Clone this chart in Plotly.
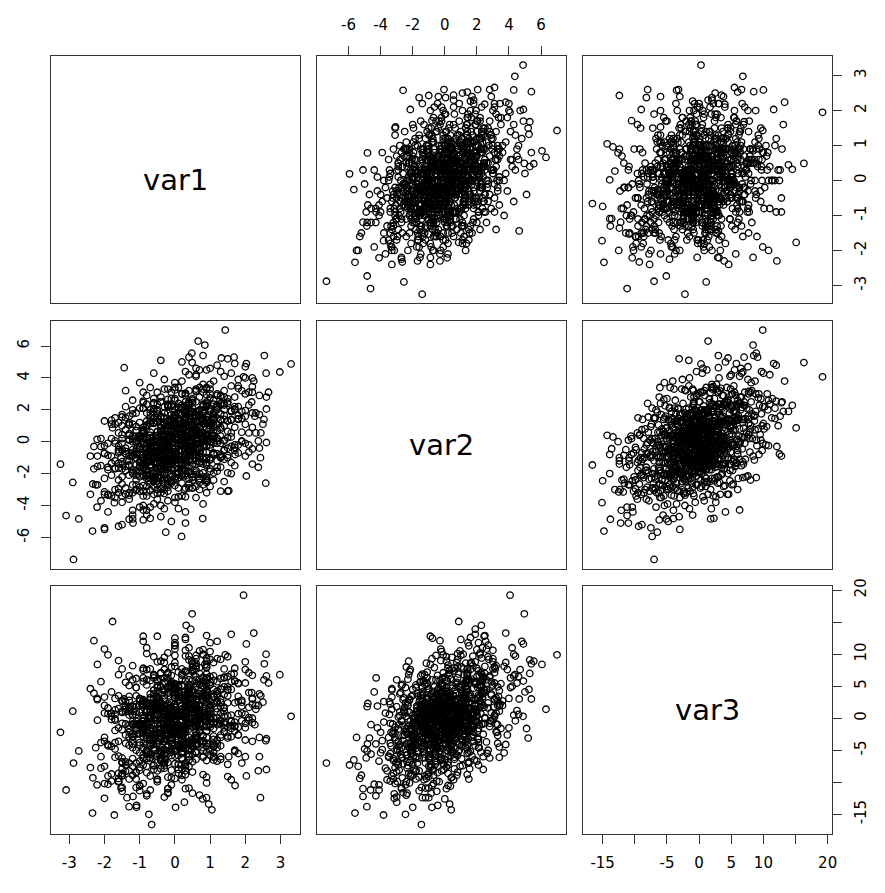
import plotly.graph_objects as go

# pairs() plot of three correlated variables

names = ["var1", "var2", "var3"]

# observations grouped by var2 band (rows of ten, same row order in all three lists)
core1 = [
    -0.4, -1.6, -0.9, 0.3, -1.2, -2.0, -0.7, -0.1, -1.5, -0.8,
    -1.3, 0.1, -0.6, -1.9, -0.2, -1.0, 0.6, -0.8, -1.5, -0.4,
    -0.9, -2.1, 0.3, -0.5, -1.2, 0.0, -0.7, -1.7, -0.3, 0.8,
    -0.3, -1.4, 0.5, -0.9, -2.2, 0.2, -0.6, -1.1, 0.9, -0.1,
    -1.7, -0.2, -0.8, 0.4, -1.2, -0.5, 1.3, -1.9, -0.4, 0.0,
    0.6, -1.0, -0.6, -2.4, 0.1, -0.3, -1.5, 0.8, -0.7, -1.3,
    -0.9, 0.3, -1.6, -0.1, -0.5, 1.0, -1.1, -0.2, -2.0, 0.5,
    -1.2, -0.4, 0.7, -0.8, -1.8, 0.2, -0.6, -1.4, 1.5, -0.2,
    -0.9, 0.9, -1.2, 0.2, 1.1, -0.1, -1.8, 0.6, -0.4, -0.7,
    -1.5, 0.3, -0.2, -1.0, 0.7, -0.6, -2.3, 0.1, -0.3, 1.4,
    0.4, -0.8, -1.3, 0.0, -0.5, 1.6, -1.1, -0.2, 0.8, -1.7,
    -0.6, 1.0, -0.1, -1.4, 0.5, -0.9, 0.2, -2.0, -0.4, 0.6,
    -1.1, -0.3, 0.9, -0.7, -1.6, 0.4, 1.2, -0.5, -0.1, -1.3,
    0.2, -1.9, -0.6, 0.7, -0.2, -1.0, 0.1, 1.7, -0.8, -0.4,
    -0.9, 0.5, -0.4, -1.2, 1.3, -0.1, -0.7, 0.3, -2.1, 0.0,
    0.7, -0.5, -1.5, 0.1, -0.8, 0.9, -0.3, -1.1, 0.4, -0.6,
    0.3, -1.0, -0.5, 0.8, -1.6, 0.1, -0.2, 1.3, -0.8, -0.4,
    -1.3, 0.6, 0.0, -0.7, 1.0, -0.3, -2.0, 0.4, -0.1, 0.9,
    0.5, -0.6, -1.2, 0.2, -0.4, 1.5, -0.9, 0.0, -1.7, 0.7,
    -0.2, 1.1, -0.8, -0.1, 0.6, -1.4, 0.3, -0.5, 2.0, -1.0,
    -0.7, 0.0, 0.9, -1.5, -0.3, 0.4, -1.1, 1.2, -0.6, 0.1,
    1.0, -0.4, -0.9, 0.5, -2.2, -0.1, 0.7, -0.7, 0.2, -1.3,
    -0.5, 0.8, -0.2, -1.8, 0.1, -0.8, 1.6, -0.3, -1.0, 0.4,
    0.2, -1.2, 0.4, -0.6, 1.4, -0.2, -1.5, 0.6, -0.4, -0.9,
    -1.1, 0.3, -0.7, 1.8, -0.5, 0.0, -1.3, 0.9, -0.1, 0.5,
    0.6, -0.3, -1.6, 0.1, 0.9, -0.8, 0.3, -2.4, -0.2, 1.1,
    -0.4, 1.3, 0.0, -0.9, -0.3, 0.7, -1.2, 0.2, -0.6, 2.2,
    1.1, -0.3, 0.4, -1.5, 0.0, 0.7, -0.9, 1.9, -0.5, 0.2,
    -0.8, 0.1, 1.4, -0.2, -1.1, 0.9, 0.3, -0.6, 2.0, -1.4,
    0.6, -1.7, -0.1, 0.5, 1.2, -0.4, -0.7, 0.0, 0.8, -1.0,
    -0.3, 0.9, -1.2, 1.6, 0.2, -0.5, 0.4, -2.1, -0.2, 1.0,
    0.0, -0.6, 0.8, -0.9, 1.5, 0.3, -1.3, 0.6, -0.1, -0.4,
    1.3, 0.2, -1.8, 0.4, -0.3, 1.0, -0.7, 0.1, 2.4, -0.8,
    -0.5, 0.7, 0.0, -1.1, 0.9, -0.2, 1.7, -1.6, 0.3, 0.5,
    0.4, -1.3, 1.1, 0.2, -0.4, -0.9, 0.6, 1.2, -0.1, -2.3,
    -1.0, 0.5, -0.2, 0.8, -1.5, 1.4, 0.0, -0.3, 0.7, 0.1,
    0.2, 1.8, -0.6, -0.1, 0.5, -1.2, 0.9, -0.8, 0.3, -0.5,
    -1.9, 0.0, 0.6, 1.1, -0.4, 0.2, -1.0, 0.4, 1.6, -0.7,
    0.8, -0.5, 0.3, -0.3, -1.3, 0.6, 2.1, -0.2, -0.9, 1.2,
    0.9, -0.5, 1.6, 0.1, -1.2, 0.6, 0.3, -0.2, 1.3, -0.8,
    -0.1, 0.8, -1.5, 1.1, 0.4, -0.6, 2.2, 0.0, 0.5, -0.3,
    1.4, 0.2, -0.4, -1.0, 0.7, 1.0, -0.1, 0.5, -1.8, 0.3,
    -0.7, 1.2, 0.6, 0.0, -0.3, 1.8, -1.1, 0.9, 0.2, -0.5,
    0.5, -1.4, 0.1, 1.5, -0.6, 0.3, 0.8, -0.9, 1.1, 0.0,
    -0.2, 0.4, 2.0, -0.8, 1.0, -0.3, 0.2, 1.3, -1.3, 0.7,
    1.7, -0.1, -0.7, 0.6, -2.0, 0.9, 0.4, -0.4, 0.1, 1.1,
    0.0, 1.0, -0.9, 0.3, 0.8, -0.2, -1.6, 1.4, 0.6, -0.6,
    -1.1, 0.7, 0.2, 2.5, -0.4, 0.5, 1.2, -0.7, 0.0, 0.9,
    0.6, -0.8, 1.3, -0.2, 0.4, -1.3, 0.1, 1.9, -0.5, 0.3,
    0.2, 1.5, -0.3, 0.8, -0.9, 0.0, 1.1, -0.1, 0.7, -1.7,
    1.2, -0.3, 0.6, 2.0, -0.9, 0.3, 1.5, -0.1, 0.8, -1.4,
    0.0, 1.7, -0.6, 0.4, 1.1, -1.2, 0.9, 0.2, 2.3, -0.4,
    -0.7, 0.5, 1.3, -0.2, 0.1, 1.8, -1.5, 0.7, 0.4, 1.0,
    0.9, -1.0, 0.2, 1.4, -0.5, 0.6, 0.0, 2.1, -0.8, 0.3,
    1.6, 0.4, -0.2, -1.7, 0.8, 0.1, 1.2, -0.4, 0.5, 2.4,
    -0.3, 1.1, 0.7, 0.2, -1.1, 1.5, 0.3, -0.6, 1.9, 0.0,
    0.5, -0.5, 2.2, 0.9, 0.3, -0.9, 1.0, 0.6, -0.2, 1.3,
    0.1, 1.4, -1.3, 0.5, 1.7, 0.0, -0.4, 0.8, 1.1, -0.7,
    1.4, 0.0, 0.9, -0.8, 2.1, 0.5, -0.3, 1.2, 0.7, 1.8,
    -0.4, 1.0, 0.3, 1.6, -1.2, 0.8, 2.4, 0.1, 0.6, -0.1,
    0.7, 2.0, -0.6, 0.4, 1.3, -0.2, 0.9, 1.7, -0.9, 0.2,
    1.1, -0.5, 0.6, 2.6, 0.0, 1.5, -1.4, 0.3, 1.0, 0.8,
    0.2, 1.2, 1.9, -0.1, 0.5, -0.7, 1.4, 0.9, 0.0, 2.2,
    1.3, 0.0, 0.6, 1.8, -0.6, 1.0, 0.4, 2.2, 0.2, 0.9,
    -0.3, 1.6, 0.8, 0.3, 2.0, 0.6, -1.0, 1.4, 0.7, 1.1,
    1.0, 0.4, 1.7, -0.4, 2.0, 0.8, 1.2, 0.2, 1.5, 0.6,
]

core2 = [
    -4.7, -5.3, -4.9, -5.1, -4.6, -5.4, -4.8, -5.0, -5.2, -4.6,
    -3.6, -4.2, -3.9, -4.4, -3.7, -4.1, -3.5, -4.3, -3.8, -4.0,
    -4.0, -3.7, -4.4, -3.6, -4.3, -3.8, -4.1, -3.5, -4.2, -3.9,
    -2.6, -3.3, -2.9, -3.1, -2.7, -3.4, -2.8, -3.0, -3.2, -2.5,
    -3.0, -2.6, -3.4, -2.9, -3.2, -2.7, -3.1, -3.3, -2.8, -3.5,
    -2.8, -3.1, -2.5, -3.3, -2.9, -3.0, -3.4, -2.7, -2.6, -3.2,
    -3.4, -2.9, -3.2, -2.6, -3.0, -2.8, -2.7, -3.1, -3.3, -2.9,
    -2.7, -3.2, -3.0, -2.8, -3.4, -2.6, -3.3, -2.9, -3.1, -2.7,
    -1.5, -2.2, -2.0, -1.8, -2.4, -1.7, -2.1, -1.9, -2.3, -1.6,
    -2.2, -1.8, -2.4, -1.6, -2.0, -2.3, -1.7, -1.9, -2.1, -2.5,
    -1.9, -2.1, -1.5, -2.3, -1.8, -2.0, -2.4, -1.6, -2.2, -1.7,
    -2.4, -1.7, -2.0, -1.8, -2.2, -1.6, -2.1, -2.3, -1.9, -1.8,
    -1.8, -2.0, -2.3, -1.5, -2.4, -1.9, -1.6, -2.2, -1.7, -2.1,
    -2.1, -1.6, -1.8, -2.4, -1.9, -2.2, -2.0, -1.5, -2.3, -1.7,
    -1.7, -2.4, -2.1, -1.9, -1.6, -1.8, -2.3, -2.0, -1.5, -2.2,
    -2.3, -1.9, -1.7, -2.0, -2.1, -2.4, -1.5, -1.8, -1.6, -2.0,
    -0.6, -1.3, -0.9, -1.1, -0.7, -1.4, -0.8, -1.0, -1.2, -0.5,
    -1.2, -0.8, -1.4, -0.6, -1.0, -1.3, -0.7, -0.9, -1.1, -1.5,
    -0.9, -1.1, -0.5, -1.3, -0.8, -1.0, -1.4, -0.6, -1.2, -0.7,
    -1.4, -0.7, -1.0, -0.8, -1.2, -0.6, -1.1, -1.3, -0.9, -0.8,
    -0.8, -1.0, -1.3, -0.5, -1.4, -0.9, -0.6, -1.2, -0.7, -1.1,
    -1.1, -0.6, -0.8, -1.4, -0.9, -1.2, -1.0, -0.5, -1.3, -0.7,
    -0.7, -1.4, -1.1, -0.9, -0.6, -0.8, -1.3, -1.0, -0.5, -1.2,
    -1.3, -0.9, -0.7, -1.0, -1.1, -1.4, -0.5, -0.8, -0.6, -1.0,
    -1.0, -0.5, -1.2, -0.7, -1.3, -1.1, -0.9, -1.4, -0.8, -0.6,
    -0.5, -1.2, -0.6, -1.1, -1.0, -0.7, -1.3, -0.9, -1.4, -0.8,
    -1.2, -0.8, -1.0, -1.3, -0.6, -0.9, -0.7, -1.1, -1.0, -1.4,
    0.4, -0.3, 0.1, -0.1, 0.3, -0.4, 0.2, 0.0, -0.2, 0.5,
    -0.2, 0.3, -0.5, 0.2, 0.0, -0.3, 0.4, 0.1, -0.1, -0.4,
    0.1, -0.1, 0.4, -0.4, 0.2, 0.0, -0.3, 0.5, -0.2, 0.3,
    -0.4, 0.2, 0.0, 0.3, -0.2, 0.4, -0.1, -0.3, 0.1, 0.0,
    0.3, 0.0, -0.3, 0.5, -0.4, 0.1, 0.4, -0.2, 0.3, -0.1,
    -0.1, 0.4, 0.2, -0.3, 0.1, -0.2, 0.0, 0.3, -0.4, 0.2,
    0.2, -0.4, -0.1, 0.1, 0.4, 0.3, -0.2, -0.5, 0.0, 0.1,
    0.0, 0.1, 0.3, -0.2, -0.1, -0.4, 0.5, 0.2, 0.4, -0.3,
    -0.3, 0.5, -0.2, 0.0, 0.2, 0.1, -0.4, 0.4, -0.1, 0.3,
    0.5, -0.2, 0.0, 0.4, -0.3, 0.2, 0.1, -0.1, 0.2, -0.4,
    -0.1, 0.3, 0.4, -0.1, 0.0, -0.5, 0.2, 0.1, -0.3, 0.4,
    0.2, -0.3, 0.1, 0.3, 0.5, 0.0, -0.2, -0.4, 0.3, -0.1,
    1.2, 0.6, 1.4, 0.9, 1.1, 0.7, 1.5, 1.0, 0.8, 1.3,
    0.8, 1.3, 1.0, 0.6, 1.4, 1.2, 0.9, 1.5, 1.1, 0.7,
    1.4, 0.9, 0.7, 1.2, 0.5, 1.0, 1.3, 0.8, 1.1, 1.4,
    0.6, 1.1, 1.3, 1.0, 0.8, 1.4, 0.7, 1.2, 0.9, 1.5,
    1.0, 1.5, 0.8, 1.3, 1.2, 0.6, 1.1, 0.9, 1.4, 0.7,
    1.3, 0.7, 1.1, 0.8, 1.0, 1.5, 0.6, 1.4, 1.2, 0.9,
    0.9, 1.2, 1.5, 0.6, 1.3, 0.8, 1.0, 0.7, 1.1, 1.4,
    1.1, 0.8, 0.6, 1.4, 0.9, 1.3, 1.2, 1.0, 0.5, 1.2,
    0.7, 1.4, 1.2, 1.1, 0.6, 0.9, 1.5, 1.3, 1.0, 0.8,
    1.5, 1.0, 0.9, 0.7, 1.4, 1.1, 0.8, 0.6, 1.3, 1.0,
    0.8, 1.3, 1.1, 1.5, 0.7, 1.2, 0.9, 1.4, 0.6, 1.1,
    2.3, 1.8, 2.5, 1.6, 2.1, 1.9, 2.4, 1.7, 2.0, 2.2,
    1.7, 2.2, 1.9, 2.4, 1.6, 2.0, 2.3, 2.1, 1.8, 2.5,
    2.0, 1.6, 2.3, 1.8, 2.4, 2.2, 1.7, 1.9, 2.5, 2.1,
    2.4, 2.1, 1.7, 2.0, 1.9, 1.6, 2.2, 2.3, 1.8, 1.5,
    1.9, 2.4, 2.2, 1.5, 2.3, 1.8, 2.0, 1.6, 2.1, 1.7,
    2.2, 1.7, 2.0, 2.3, 1.8, 2.5, 1.6, 2.4, 1.9, 2.0,
    1.6, 2.0, 1.8, 2.2, 2.5, 2.1, 1.9, 1.7, 2.3, 2.4,
    2.1, 2.3, 1.6, 1.9, 2.0, 1.7, 2.5, 2.2, 1.5, 1.8,
    3.2, 2.7, 3.4, 2.9, 3.1, 2.6, 3.3, 3.0, 2.8, 3.5,
    2.8, 3.3, 3.0, 3.5, 2.6, 3.1, 2.9, 3.4, 3.2, 2.7,
    3.4, 3.0, 2.7, 3.2, 2.9, 3.3, 2.5, 2.8, 3.1, 3.0,
    2.6, 3.1, 3.3, 2.8, 3.4, 2.7, 3.2, 2.9, 3.0, 3.3,
    3.0, 2.9, 3.2, 3.1, 2.7, 3.4, 2.8, 3.3, 2.6, 3.1,
    4.4, 3.7, 4.1, 3.9, 4.3, 3.6, 4.2, 4.0, 3.8, 4.5,
    3.9, 4.3, 3.6, 4.4, 4.0, 4.2, 3.7, 4.1, 4.5, 3.8,
    4.6, 5.3, 4.9, 5.1, 4.7, 5.4, 4.8, 5.0, 5.2, 4.6,
]

core3 = [
    -3.1, -9.4, -6.2, -11.0, -1.0, -7.5, 2.3, -4.8, -8.9, -5.6,
    -8.2, -1.5, -4.9, -10.3, 0.8, -6.7, -3.0, -12.1, 2.6, -5.4,
    -2.2, -7.8, 4.1, -9.6, -4.0, -0.6, -11.2, -6.1, 1.9, -3.5,
    -7.1, 1.4, -3.6, -10.2, -0.3, -5.5, 3.8, -8.4, -2.0, 0.9,
    -4.8, -11.6, 2.2, -1.7, -6.3, 5.1, -3.0, -9.0, 0.4, -5.9,
    1.0, -7.7, -2.6, 4.6, -4.4, -12.3, -0.8, -6.1, 2.9, -9.5,
    -3.9, 0.2, -8.6, -1.1, 6.0, -5.0, -10.8, -2.3, 3.3, -6.8,
    -0.5, -6.6, 1.8, -4.1, -9.8, -2.7, 4.4, -7.3, -1.4, -11.0,
    -0.4, -10.1, -2.9, 5.2, -4.0, 0.6, -8.7, -1.2, 2.4, -6.3,
    2.8, -4.7, 0.3, -11.3, -0.9, -7.4, 3.9, -3.3, -5.6, 1.7,
    -0.2, -5.1, 6.6, -2.5, -6.0, 4.5, -1.6, -9.2, 0.9, -3.8,
    -5.8, 1.2, -3.1, -8.3, 7.3, -1.9, -4.4, 2.0, -7.9, -0.7,
    4.8, -4.9, -1.3, 1.9, -9.9, -3.6, 0.1, -6.9, -2.2, 3.4,
    -1.5, 0.7, -4.1, -12.0, -2.8, 3.0, -7.2, -0.6, 1.1, -5.2,
    -1.0, 8.0, -6.5, -3.4, 2.5, -8.1, -0.1, -4.6, 5.7, -2.0,
    6.1, -2.4, -7.0, 3.6, -1.8, -5.3, 1.5, -9.5, -3.7, 0.4,
    2.1, -4.2, 0.7, -8.8, -1.5, 4.9, -2.7, -6.4, 1.3, -0.3,
    -7.0, 0.2, 3.8, -3.1, -5.7, 1.9, -10.2, -0.8, 5.5, -2.0,
    -1.2, 6.3, -4.6, 0.5, -2.3, -9.1, 2.7, -5.2, -0.1, 3.4,
    4.1, -2.8, -7.5, 1.6, -0.4, -3.9, 7.2, -1.7, -6.0, 0.9,
    -3.4, 1.2, -0.6, -11.4, 3.1, -5.0, -1.9, 2.4, -8.0, 5.0,
    0.0, -6.6, 2.3, -1.4, 8.4, -3.2, 0.8, -4.4, -9.6, 1.7,
    -5.5, 3.6, -2.5, 0.3, -7.2, 6.0, -1.1, -3.6, 2.0, -10.9,
    1.4, -0.9, -4.8, 4.4, -2.1, 0.6, -6.8, 9.3, -3.3, -0.5,
    -8.5, 2.9, 0.1, -2.6, 5.8, -4.1, 1.0, -12.4, -1.6, 3.0,
    3.7, -1.8, -5.9, 0.4, -3.0, 2.5, -0.2, -7.7, 6.9, -4.5,
    -2.4, 0.8, 4.6, -6.2, 1.5, -1.0, -8.9, 3.2, -4.0, -0.7,
    -1.6, 4.3, -5.0, 0.9, 2.2, -3.6, 7.8, -0.4, -8.2, 1.1,
    5.2, -2.1, 0.3, -6.9, 3.5, -1.3, -4.2, 9.6, -0.8, 2.6,
    -3.2, 0.6, -9.3, 2.8, -1.0, 6.1, -5.6, 0.0, 3.9, -2.4,
    0.7, 8.3, -2.9, -0.5, -6.3, 1.8, 4.5, -3.8, -11.0, 0.2,
    -4.7, 2.0, 5.8, -1.9, 0.4, -7.6, 1.3, -2.2, 6.7, -0.9,
    3.0, -5.4, -0.2, 1.6, -3.1, 10.4, -1.5, 4.0, -6.0, -2.7,
    -0.3, 1.9, -7.1, 4.8, -4.4, -0.7, 2.4, -9.8, 0.8, 5.9,
    -6.5, -1.1, 3.3, -2.5, 7.1, 0.5, -5.3, 1.0, -3.5, 12.1,
    2.7, -3.9, -0.9, 6.4, -8.6, 3.7, -0.1, -4.9, 2.1, -1.4,
    -2.0, 5.5, 1.5, -5.8, 0.1, -2.8, 8.9, -1.2, -7.3, 3.2,
    9.9, -0.6, -4.1, 2.3, -1.7, 0.9, -10.5, 4.2, -2.9, 1.4,
    -5.1, 3.4, 0.0, -3.3, 5.1, -6.4, 1.7, -0.5, 7.5, -4.0,
    3.6, -2.3, 6.9, -4.1, 0.5, 2.9, -7.0, 1.4, 9.2, -0.6,
    -1.8, 5.0, 1.1, -6.1, 4.2, -2.9, 0.0, 11.3, -3.7, 2.1,
    7.7, 0.3, -4.6, 3.1, -0.9, 1.9, 5.7, -8.4, 0.8, -2.0,
    -3.0, 2.6, 8.6, -1.3, 6.3, -5.5, 1.0, 3.8, -0.4, -9.5,
    1.5, -6.8, 0.6, 4.9, -2.6, 7.4, -1.1, 2.2, -4.3, 5.3,
    0.2, 3.9, -3.4, 10.1, 1.7, -0.1, -7.9, 4.6, 2.8, -1.5,
    -5.0, 1.2, 5.9, -0.7, -3.6, 8.0, 0.4, -2.2, 3.3, 6.6,
    4.4, -1.0, 2.0, -8.8, 0.9, -4.5, 6.8, 1.6, -0.3, 3.0,
    -2.5, 7.0, -0.5, 2.5, -6.4, 0.7, 3.5, -1.9, 9.8, -3.9,
    6.0, -3.2, 1.8, 0.0, 4.7, -1.6, -5.8, 2.8, -0.8, 12.3,
    -0.2, 2.4, -7.4, 5.6, -1.4, 3.6, 0.1, -4.8, 7.9, 1.3,
    4.2, -1.4, 8.1, 0.6, -4.6, 2.9, 6.5, -0.2, 10.7, 1.8,
    -2.9, 5.8, 2.2, -6.0, 3.4, 0.5, 9.4, -3.3, 1.4, 7.0,
    1.0, 7.6, -0.9, 4.7, -8.0, 2.6, -1.8, 5.3, 0.1, 11.8,
    6.3, -3.8, 3.1, -0.6, 8.8, -5.2, 1.7, 4.0, -2.2, 2.4,
    -0.4, 2.0, 10.2, -1.9, 5.1, 0.8, -6.7, 3.7, 7.4, -3.0,
    3.5, -5.9, 0.3, 6.9, -1.2, 4.4, 12.6, -2.5, 1.9, -0.7,
    8.5, 1.3, -3.6, 2.7, 0.0, -7.3, 5.6, -1.0, 3.9, 6.2,
    -1.6, 4.9, 1.6, -4.3, 7.8, 2.3, -0.8, 9.9, -5.4, 0.4,
    -2.1, 11.4, 4.3, 0.9, 7.1, -3.7, 2.0, 9.3, -0.8, 5.4,
    -6.2, 2.7, 10.6, -1.6, 6.0, 0.2, 3.8, -4.5, 8.2, 1.6,
    1.1, 8.8, -5.0, 3.2, -0.4, 4.9, 12.9, -1.3, 2.9, 7.7,
    4.5, 0.5, -3.9, 6.6, 1.9, 9.6, -0.9, 3.6, 5.2, -2.7,
    -0.2, 5.7, 0.8, 8.0, 2.4, -6.1, 6.4, -1.0, 10.8, 3.0,
    -0.4, 8.1, 4.8, -2.6, 6.6, 2.0, 11.0, 3.1, -4.1, 5.5,
    7.6, 0.5, 2.7, 9.7, -1.5, 5.0, -5.4, 6.3, 1.2, 8.7,
    0.6, 9.1, 5.8, -1.6, 7.6, 3.0, 12.0, 4.1, -3.1, 6.5,
]

# more observations in the dense middle (same band layout, rows of ten)
extra1 = [
    -0.8, 0.4, -1.9, -0.2, -1.1, 0.9, -0.5, -1.6, 0.1, -0.9,
    0.0, -1.3, -0.4, -2.0, 0.7, -0.7, -1.0, 0.3, -1.5, -0.3,
    0.5, -1.6, -0.3, 1.0, -0.9, -0.1, -2.2, 0.8, -0.6, 0.2,
    -1.2, 0.1, 1.5, -0.5, -1.7, 0.6, -0.2, -1.0, 0.4, -0.8,
    -0.3, 1.2, -1.4, 0.3, -0.7, -1.9, 0.9, -0.4, 0.0, 1.1,
    -0.6, 0.9, -1.8, 0.4, 0.0, -1.1, 1.4, -0.3, 0.7, -1.4,
    1.2, -0.7, 0.2, -1.5, 0.8, -0.2, -0.9, 1.7, -1.2, 0.1,
    -0.1, -1.9, 0.6, 1.0, -0.5, 0.3, -1.3, -0.6, 2.1, -0.8,
    0.4, 0.0, -1.0, -0.4, 1.3, -1.6, 0.5, 0.9, -0.3, -2.0,
    -1.5, 0.7, 1.1, -0.8, -0.2, 0.5, -0.7, 0.2, -1.1, 1.5,
    0.3, -1.1, 1.7, -0.4, 0.6, -0.8, 0.0, 1.2, -1.6, 0.5,
    -0.7, 0.9, -0.2, 2.2, -1.2, 0.4, -0.5, 0.1, 0.8, -0.1,
    1.0, -0.3, -1.5, 0.2, -0.6, 1.5, 0.7, -2.0, 0.3, -0.9,
    -0.4, 0.6, 0.1, -1.0, 1.9, -0.2, 1.1, -0.7, 0.0, 0.4,
    0.2, -1.7, 0.8, 0.5, -0.3, -0.9, 1.3, 0.0, -0.5, 2.6,
    -1.3, 0.3, -0.6, 1.4, 0.0, 0.9, -1.1, 0.6, -0.2, -0.6,
    0.4, 1.6, -0.9, 0.8, -0.2, 2.1, 0.1, -1.3, 0.6, 1.0,
    -0.4, 0.2, 1.2, -1.6, 0.9, -0.1, 0.5, 1.8, -0.7, 0.3,
    1.5, -0.6, 0.0, 0.7, -1.1, 0.4, 2.3, -0.3, 1.1, -0.8,
    0.1, 0.9, -1.4, 1.3, 0.5, -0.5, 0.3, 0.0, 1.6, -0.2,
    -0.9, 1.1, 0.6, -0.1, 1.9, 0.2, -1.8, 0.8, -0.4, 0.7,
    0.7, -0.8, 1.8, 0.2, 1.1, -0.4, 0.5, 2.6, -1.2, 0.9,
    -0.2, 1.3, 0.4, -1.5, 0.8, 1.6, 0.0, -0.6, 1.2, 0.3,
    1.4, 0.1, -0.9, 0.6, 2.0, -0.1, 0.9, 0.4, -0.5, 1.7,
    0.9, 1.8, -0.2, 0.6, 1.3, -0.9, 2.2, 0.3, 1.0, 0.0,
]

extra2 = [
    -3.15, -2.65, -3.35, -2.85, -3.05, -2.55, -3.25, -2.95, -3.45, -2.75,
    -2.75, -3.35, -2.95, -3.15, -2.55, -3.05, -2.85, -3.45, -2.65, -3.25,
    -2.05, -1.65, -2.35, -1.85, -2.15, -2.45, -1.55, -1.95, -2.25, -1.75,
    -1.75, -2.25, -1.95, -2.45, -1.65, -2.05, -2.35, -1.55, -1.85, -2.15,
    -2.35, -1.85, -1.55, -2.15, -2.05, -1.75, -2.45, -2.25, -1.65, -1.95,
    -1.05, -0.65, -1.35, -0.85, -1.15, -1.45, -0.55, -0.95, -1.25, -0.75,
    -0.75, -1.25, -0.95, -1.45, -0.65, -1.05, -1.35, -0.55, -0.85, -1.15,
    -1.35, -0.85, -0.55, -1.15, -1.05, -0.75, -1.45, -1.25, -0.65, -0.95,
    -0.55, -1.15, -1.25, -0.65, -0.95, -1.35, -0.85, -1.05, -1.45, -0.75,
    -1.25, -0.95, -0.75, -1.35, -0.55, -1.15, -0.65, -1.45, -1.05, -0.85,
    -0.05, 0.35, -0.35, 0.15, -0.15, -0.45, 0.45, 0.05, -0.25, 0.25,
    0.25, -0.25, 0.05, -0.45, 0.35, -0.05, -0.35, 0.45, 0.15, -0.15,
    -0.35, 0.15, 0.45, -0.15, -0.05, 0.25, -0.45, -0.25, 0.35, 0.05,
    0.45, -0.15, -0.25, 0.35, 0.05, -0.35, 0.15, -0.05, -0.45, 0.25,
    -0.25, 0.05, 0.25, -0.35, 0.45, -0.15, 0.35, -0.45, 0.05, -0.05,
    0.15, -0.45, 0.35, 0.05, -0.25, 0.45, -0.05, 0.25, -0.15, -0.35,
    0.95, 1.35, 0.65, 1.15, 0.85, 0.55, 1.45, 1.05, 0.75, 1.25,
    1.25, 0.75, 1.05, 0.55, 1.35, 0.95, 0.65, 1.45, 1.15, 0.85,
    0.65, 1.15, 1.45, 0.85, 0.95, 1.25, 0.55, 0.75, 1.35, 1.05,
    1.45, 0.85, 0.75, 1.35, 1.05, 0.65, 1.15, 0.95, 0.55, 1.25,
    0.75, 1.05, 1.25, 0.65, 1.45, 0.85, 1.35, 0.55, 1.05, 0.95,
    1.95, 2.35, 1.65, 2.15, 1.85, 1.55, 2.45, 2.05, 1.75, 2.25,
    2.25, 1.75, 2.05, 1.55, 2.35, 1.95, 1.65, 2.45, 2.15, 1.85,
    1.65, 2.15, 2.45, 1.85, 1.95, 2.25, 1.55, 1.75, 2.35, 2.05,
    2.95, 3.35, 2.65, 3.15, 2.85, 2.55, 3.45, 3.05, 2.75, 3.25,
]

extra3 = [
    -11.8, 5.3, -4.3, -1.0, -7.0, 3.2, -2.4, -9.9, 0.6, -5.7,
    4.0, -2.2, -5.0, -12.5, 1.3, -3.4, -8.1, 2.6, -6.2, -0.9,
    -4.5, 3.5, -7.8, 0.2, -1.6, -10.4, 2.9, -5.9, 6.8, -3.1,
    1.9, -8.6, -2.8, 4.8, -0.3, -5.4, -11.7, 0.9, -4.0, 7.6,
    -6.8, -0.7, 5.6, -3.9, -9.0, 1.6, -2.1, 8.9, -5.1, 0.0,
    -1.8, 7.9, -4.4, 3.8, -9.4, -0.5, 1.1, -6.3, 5.3, -2.6,
    4.2, -5.6, 1.9, -10.8, 0.4, -3.3, 5.7, -1.2, -7.5, 2.9,
    -1.4, -4.1, 9.8, -0.9, 2.5, -8.2, -2.9, 6.8, 0.1, -5.0,
    6.0, -2.3, -1.0, 4.9, -6.0, 1.5, -11.7, 3.0, -3.6, 0.8,
    -9.0, -0.2, 3.4, -5.3, -1.9, 8.6, 0.5, -4.7, 2.2, -7.2,
    -1.3, 6.2, -5.2, 2.0, 0.4, -8.5, 4.7, -3.4, 9.0, -0.8,
    3.8, -6.6, -0.3, 6.7, -2.4, 1.3, -9.9, 2.8, -4.6, 5.1,
    -4.0, 1.0, 7.7, -1.8, -7.3, 3.5, 0.1, 10.8, -3.0, -0.4,
    1.7, -2.7, 4.0, -10.6, 2.5, -5.1, 5.9, 0.0, -1.3, 7.0,
    -6.2, 3.1, -3.7, 1.4, 9.5, -0.9, -4.3, 4.4, 0.7, -8.0,
    0.5, -4.8, 2.3, -1.5, 5.4, -9.2, 1.8, -2.6, 6.3, -0.1,
    -7.5, 5.7, -2.4, 10.0, 0.2, -0.3, 7.2, -4.2, 3.0, 1.4,
    2.3, -8.9, 3.8, -3.6, 6.1, 4.8, -5.6, 0.7, 7.7, -1.4,
    4.5, 1.1, 11.8, -2.0, 0.6, -3.0, 2.0, 8.7, -0.8, -6.3,
    -4.1, 6.9, 1.0, -0.3, 8.0, 2.7, -1.7, 5.0, -9.6, 3.5,
    0.1, -3.3, 5.4, 1.7, -7.0, -5.2, 4.1, -2.7, 2.4, 10.5,
    1.2, 11.0, -1.4, 6.7, -6.5, 2.4, 4.0, -3.2, 8.2, 0.7,
    7.1, -2.6, 4.8, -7.9, 3.3, -0.4, 8.7, 1.7, -4.6, 5.8,
    1.6, -1.0, 12.8, 2.1, 5.5, -5.3, 0.2, 9.7, 3.0, -2.0,
    5.0, 3.4, -5.5, 7.7, -0.4, 12.0, 2.2, 1.7, 9.2, -2.2,
]

# tightly packed centre of the cloud (rows of ten)
centre1 = [
    -0.6, 0.1, -0.9, -0.3, 0.4, -1.0, -0.1, -0.5, 0.2, -0.8,
    -0.2, -0.7, 0.3, -1.1, -0.4, 0.0, -0.8, 0.5, -0.3, -0.6,
    0.1, -0.5, -0.2, 0.6, -0.9, -0.1, 0.3, -0.6, 0.0, -0.4,
    -0.7, 0.4, -0.3, 0.0, -1.0, 0.2, -0.5, 0.7, -0.2, 0.1,
    0.5, -0.1, -0.8, 0.3, -0.4, 0.8, -0.6, -0.2, 0.2, -0.9,
    -0.3, 0.2, 0.6, -0.5, 0.0, -0.7, 0.4, -0.1, -1.1, 0.3,
    0.2, -0.4, 0.7, 0.0, -0.8, 0.4, -0.2, 0.9, -0.5, 0.1,
    -0.6, 0.3, -0.1, 0.5, -0.3, 1.0, -0.9, 0.2, 0.6, -0.2,
    0.8, -0.7, 0.0, -0.4, 0.5, -0.1, 0.3, -1.0, 0.2, 0.6,
    -0.3, 0.6, 0.4, -0.6, 0.1, -0.5, 0.9, 0.0, -0.2, 0.3,
    0.5, -0.2, 0.9, 0.1, -0.5, 0.6, 0.0, 1.1, -0.3, 0.3,
    -0.1, 0.7, 0.3, -0.6, 0.4, 1.0, -0.4, 0.2, 0.8, 0.0,
    0.9, 0.2, -0.3, 0.5, -0.1, 0.4, 1.2, -0.7, 0.6, 0.1,
    0.3, 0.9, -0.2, 0.6, 1.2, 0.0, 0.5, -0.5, 1.0, 0.4,
    0.7, -0.1, 0.4, 1.4, 0.2, -0.6, 0.8, 0.1, 0.5, 1.1,
]

centre2 = [
    -2.2, -1.7, -2.05, -1.55, -2.35, -1.9, -2.45, -1.65, -2.15, -1.8,
    -1.6, -2.3, -1.85, -2.1, -1.5, -2.4, -1.95, -2.25, -1.75, -2.0,
    -0.9, -1.35, -0.6, -1.05, -1.4, -0.75, -1.2, -0.55, -0.95, -1.3,
    -1.45, -0.8, -1.1, -0.65, -1.25, -0.5, -1.0, -1.35, -0.7, -1.15,
    -0.7, -1.2, -0.85, -1.45, -0.6, -1.05, -1.3, -0.9, -1.5, -0.65,
    -1.1, -0.55, -1.4, -0.8, -1.15, -0.95, -0.6, -1.25, -0.75, -1.0,
    0.1, -0.35, 0.4, -0.1, 0.25, -0.45, 0.0, 0.35, -0.2, 0.15,
    -0.25, 0.3, -0.05, 0.45, -0.4, 0.2, -0.15, 0.05, 0.4, -0.3,
    0.35, -0.1, 0.2, -0.45, 0.0, 0.3, -0.3, 0.15, -0.05, 0.5,
    -0.15, 0.45, -0.35, 0.1, -0.25, 0.05, 0.35, -0.4, 0.25, -0.1,
    1.1, 0.65, 1.4, 0.8, 1.25, 0.55, 1.0, 1.35, 0.75, 1.2,
    0.7, 1.3, 0.95, 1.45, 0.6, 1.15, 0.85, 1.05, 1.4, 0.5,
    1.35, 0.9, 1.2, 0.6, 1.05, 1.45, 0.7, 1.15, 0.8, 1.3,
    2.1, 1.6, 2.35, 1.85, 2.2, 1.55, 2.45, 1.75, 2.0, 2.3,
    1.7, 2.25, 1.9, 2.4, 1.65, 2.05, 1.8, 2.15, 1.5, 2.35,
]

centre3 = [
    -4.6, 0.3, -2.8, 1.5, -5.7, -1.2, 2.4, -3.5, -0.4, -6.3,
    0.8, -3.9, -1.6, -5.0, 2.1, -2.3, -0.7, -4.4, 1.2, -3.1,
    -2.5, 1.8, -0.3, -4.2, 2.6, -1.6, 0.7, -3.4, -5.1, 0.2,
    1.1, -3.0, -1.9, 3.2, -0.8, -4.6, 0.4, -2.2, 2.0, -1.3,
    -3.8, 0.0, 2.4, -1.1, -2.9, 1.5, -4.9, -0.6, 3.6, -2.0,
    0.6, -1.5, -3.3, 1.9, -0.2, -2.6, 3.0, -4.0, -0.9, 1.3,
    1.4, -2.2, 0.5, 3.1, -1.0, -3.6, 2.3, -0.4, 4.2, -1.7,
    -0.8, 2.7, -3.0, 0.9, 4.6, -1.4, -0.1, -2.8, 1.9, -4.3,
    3.5, -0.6, -1.9, 2.0, -3.3, 0.2, 1.1, -2.4, 5.0, -0.3,
    -2.6, 1.6, 3.9, -1.2, 0.4, -4.0, 2.5, 0.8, -1.6, 2.9,
    2.3, -1.1, 4.5, 0.4, -2.4, 3.4, 1.0, -0.6, 5.6, -1.8,
    -0.2, 3.8, 1.7, -3.1, 2.6, 0.1, 4.9, -1.5, 1.2, -0.5,
    4.1, 0.9, -2.0, 2.9, 5.3, -0.9, 1.5, 3.2, -1.3, 0.6,
    3.6, -0.4, 5.8, 1.4, 2.7, -1.8, 4.4, 0.6, 6.5, 2.2,
    0.9, 4.9, 2.0, -0.9, 6.1, 3.1, -0.2, 5.2, 1.6, 3.8,
]

tail1 = [1.95, 0.49, -1.77, -3.25, 3.30, 2.98, -3.09, -2.90, -2.88, -2.73,
         -2.34, -1.72, -0.66, -0.74, 2.43, 2.37, 2.58, 2.54, 2.24, 1.60,
         -2.21, -2.21, 1.05, 0.02, 0.27, -1.09, -1.19, 1.71, 2.03, 1.43,
         0.66, 0.85, 0.48, 0.19, -0.26, 0.79, -1.44, 0.32, 2.66, 2.59,
         2.37, 1.53, 2.03, -1.30, -1.20, -0.90, -0.50, -1.53, -1.36, -1.09,
         0.96, 0.79, 0.00, 0.45, -2.00, -2.10, -2.33, -2.25, 2.18, 2.27,
         2.53, 2.44, 1.32, 1.68]
tail2 = [4.07, 4.96, 0.87, -1.41, 4.88, 4.37, -4.63, -2.55, -7.38, -4.84,
         -5.60, -3.82, -1.46, -2.45, -1.00, -1.60, -2.60, 5.40, 3.80, 1.90,
         -4.10, 0.15, 0.40, -2.00, -3.00, -0.44, -5.10, -0.80, 4.90, 7.00,
         6.31, 6.06, 5.55, -5.94, -5.67, -4.82, 4.64, 2.28, 3.10, 4.30,
         0.05, -3.07, -2.15, -4.86, -4.84, -4.28, -0.90, -1.00, -1.20, -0.80,
         0.30, 0.00, -0.77, 1.90, -5.50, 0.20, -2.65, -2.70, 2.49, 1.60,
         1.40, 0.55, 5.25, 5.30]
tail3 = [19.2, 16.3, 15.1, -2.2, 0.3, 6.8, -11.2, 1.1, -7.0, -5.1,
         -14.8, -15.1, -16.6, -15.0, -12.4, -8.2, -3.5, 8.5, 13.3, 13.1,
         -10.4, 3.1, -14.3, -13.9, -13.1, -13.6, -12.2, -10.5, 11.6, 9.9,
         1.4, 8.4, 8.9, -7.3, -6.5, -4.0, 3.0, 14.5, 5.5, 10.0,
         2.0, -6.0, -9.0, -13.8, 1.8, 6.3, 12.8, -10.9, -12.4, -13.9,
         -13.4, -12.6, 12.5, 13.9, -3.0, -6.0, -9.3, -4.6, 4.0, -1.0,
         6.0, 3.5, 4.5, 7.0]

# tick marks per variable (R drops labels that would collide)
ticks1 = [-3, -2, -1, 0, 1, 2, 3]
ticks2 = [-6, -4, -2, 0, 2, 4, 6]
ticks3 = [-15, -10, -5, 0, 5, 10, 15, 20]
labels3 = ["-15", "", "-5", "0", "5", "10", "", "20"]

var1 = core1 + extra1 + centre1 + tail1
var2 = core2 + extra2 + centre2 + tail2
var3 = core3 + extra3 + centre3 + tail3
data = [var1, var2, var3]
n = min(len(v) for v in data)
data = [v[:n] for v in data]

tick_vals = [ticks1, ticks2, ticks3]
tick_text = [[str(t) for t in ticks1], [str(t) for t in ticks2], labels3]


def padded(v):
    lo, hi = min(v), max(v)
    pad = 0.04 * (hi - lo)
    return [lo - pad, hi + pad]


ranges = [padded(v) for v in data]

# the page body has an 8px margin on every side; keep the figure inside it
OFF = 8
W, H = 885 - 2 * OFF, 893 - 2 * OFF
col_px = [(51.5, 302), (319, 569.5), (586.5, 836.5)]
row_px = [(48.3, 298), (315.7, 565.7), (583.3, 833.3)]

# which panel carries which axis, R pairs() style
x_sides = {(0, 1): "top", (2, 0): "bottom", (2, 2): "bottom"}
y_sides = {(1, 0): "left", (0, 2): "right", (2, 2): "right"}

fig = go.Figure()
layout = {}
tick_font = dict(family="DejaVu Sans", size=15, color="black")

for r in range(3):
    for c in range(3):
        k = r * 3 + c + 1
        sfx = "" if k == 1 else str(k)
        x0, x1 = col_px[c]
        y0, y1 = row_px[r]
        xa = dict(
            domain=[(x0 - OFF) / W, (x1 - OFF) / W], anchor="y" + sfx, range=ranges[c],
            showgrid=False, zeroline=False, showline=True, mirror=True,
            linecolor="#333", linewidth=1, showticklabels=False, ticks="",
        )
        ya = dict(
            domain=[1 - (y1 - OFF) / H, 1 - (y0 - OFF) / H], anchor="x" + sfx,
            range=ranges[r],
            showgrid=False, zeroline=False, showline=True, mirror=True,
            linecolor="#333", linewidth=1, showticklabels=False, ticks="",
        )
        if (r, c) in x_sides:
            side = x_sides[(r, c)]
            xa.update(side=side, ticks="outside", ticklen=9,
                      tickcolor="#333", tickwidth=1, showticklabels=True,
                      tickmode="array", tickvals=tick_vals[c],
                      ticktext=tick_text[c], tickfont=tick_font,
                      ticklabelstandoff=10 if side == "top" else 6)
        if (r, c) in y_sides:
            ya.update(side=y_sides[(r, c)], ticks="outside", ticklen=9,
                      tickcolor="#333", tickwidth=1, showticklabels=True,
                      tickmode="array", tickvals=tick_vals[r],
                      ticktext=tick_text[r], tickfont=tick_font,
                      tickangle=-90, ticklabelstandoff=6)
        layout["xaxis" + sfx] = xa
        layout["yaxis" + sfx] = ya

        if r == c:
            # empty trace so the diagonal panel box is drawn
            fig.add_trace(go.Scatter(
                x=[None], y=[None], mode="markers",
                xaxis="x" + sfx, yaxis="y" + sfx,
                hoverinfo="skip", showlegend=False,
            ))
            fig.add_annotation(
                text=names[r], xref="x" + sfx + " domain", yref="y" + sfx + " domain",
                x=0.5, y=0.5, showarrow=False,
                font=dict(family="DejaVu Sans", size=29, color="black"),
            )
        else:
            fig.add_trace(go.Scatter(
                x=data[c], y=data[r], mode="markers",
                xaxis="x" + sfx, yaxis="y" + sfx,
                marker=dict(symbol="circle-open", size=6.5, color="black",
                            line=dict(width=1.3, color="black")),
                hoverinfo="skip", showlegend=False,
            ))

fig.update_layout(
    width=W, height=H, margin=dict(l=0, r=0, t=0, b=0),
    paper_bgcolor="white", plot_bgcolor="white", showlegend=False,
    **layout,
)

fig.write_html("out.html")
